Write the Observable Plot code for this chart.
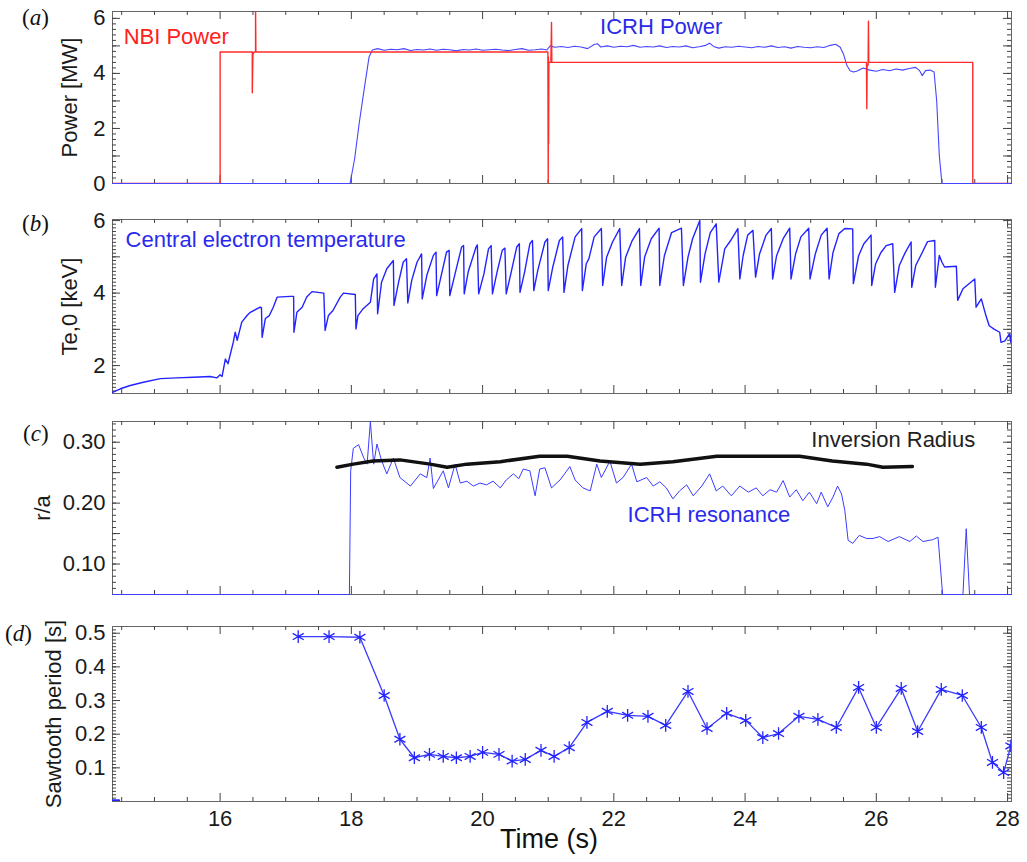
<!DOCTYPE html>
<html><head><meta charset="utf-8">
<script src="https://cdn.jsdelivr.net/npm/d3@7"></script>
<script src="https://cdn.jsdelivr.net/npm/@observablehq/plot@0.6"></script>
<style>
body{margin:0;background:#fff;}
#wrap{position:relative;width:1027px;height:862px;overflow:hidden;font-family:"Liberation Sans",Arial,sans-serif;}
.panel{position:absolute;left:0;}
.plab{position:absolute;font-family:"Liberation Serif","DejaVu Serif",serif;font-size:23px;color:#111;line-height:1;}
.plab i{font-style:italic;}
#xtitle{position:absolute;left:549px;top:826px;transform:translateX(-50%);font-size:27px;color:#111;line-height:1;white-space:nowrap;}
</style></head><body><div id="wrap"></div>
<script>
// ---------- data ----------
const xDomain = [14.36, 28.06];
const xTickLabels = [16, 18, 20, 22, 24, 26, 28];

// (a) NBI power [t, MW]
const nbiPower = [[14.36,0],[16.0,0],[16.0,4.78],[16.49,4.78],[16.49,3.3],[16.5,4.7],[16.52,4.78],[16.54,4.78],[16.54,6.4],[16.545,4.78],
 [20.995,4.78],[21.0,0],[21.003,4.6],[21.006,1.44],[21.01,4.4],[21.04,4.4],[21.05,5.85],[21.055,4.4],
 [25.85,4.4],[25.855,2.72],[25.86,4.3],[25.875,4.3],[25.88,5.9],[25.885,4.4],[27.47,4.4],[27.47,0],[28.06,0]];
// (a) ICRH power [t, MW]
const icrhPower = [[14.36,0],[17.98,0],[18.05,0.9],[18.12,2.2],[18.2,3.5],[18.27,4.6],[18.32,4.85],[18.4,4.9],[18.5,4.84],[18.6,4.88],
 [18.7,4.86],[18.8,4.9],[18.9,4.83],[19.0,4.87],[19.1,4.85],[19.2,4.89],[19.3,4.84],[19.4,4.88],[19.5,4.86],[19.6,4.82],
 [19.7,4.87],[19.8,4.85],[19.9,4.89],[20.0,4.84],[20.1,4.86],[20.2,4.88],[20.3,4.85],[20.4,4.83],[20.5,4.87],[20.6,4.9],
 [20.7,4.84],[20.8,4.86],[20.9,4.89],[20.98,4.85],[21.03,5.0],[21.1,4.95],[21.2,4.98],[21.3,4.94],[21.4,4.99],[21.5,4.96],
 [21.6,4.9],[21.7,5.05],[21.75,5.08],[21.8,4.96],[21.9,5.0],[22.0,4.95],[22.1,4.99],[22.2,4.97],[22.3,5.02],[22.4,4.95],
 [22.5,4.98],[22.6,4.96],[22.7,5.0],[22.8,4.94],[22.9,4.98],[23.0,4.96],[23.1,5.0],[23.2,4.93],[23.3,4.97],[23.4,5.02],
 [23.46,5.1],[23.52,4.98],[23.6,4.92],[23.7,4.97],[23.8,4.95],[23.9,4.99],[24.0,4.96],[24.1,4.93],[24.2,4.98],[24.3,4.95],
 [24.4,5.0],[24.5,4.94],[24.6,4.97],[24.7,4.92],[24.8,4.98],[24.9,4.95],[25.0,4.93],[25.1,4.97],[25.2,4.94],[25.3,5.02],
 [25.38,5.06],[25.45,4.95],[25.5,4.7],[25.55,4.3],[25.6,4.1],[25.65,4.05],[25.7,4.08],[25.8,4.2],[25.9,4.12],[26.0,4.08],
 [26.1,4.14],[26.2,4.1],[26.3,4.16],[26.4,4.12],[26.5,4.18],[26.6,4.22],[26.66,4.1],[26.7,3.92],[26.75,4.1],[26.82,4.12],
 [26.88,4.05],[26.92,3.0],[26.96,1.0],[27.0,0],[28.06,0]];

// (b) central electron temperature [t, keV]
const teCentral = [[14.36,1.26],[14.48,1.36],[14.63,1.45],[14.83,1.54],[15.09,1.64],[15.34,1.66],[15.59,1.68],[15.85,1.7],[15.95,1.66],[16.0,1.75],
 [16.03,1.7],[16.08,2.18],[16.12,2.05],[16.2,2.64],[16.23,2.92],[16.26,2.7],[16.33,3.2],[16.41,3.38],[16.46,3.47],[16.61,3.61],
 [16.63,3.6],[16.64,2.78],[16.69,3.3],[16.75,3.38],[16.81,3.61],[16.87,3.89],[17.07,3.91],[17.12,3.91],[17.125,2.92],[17.17,3.47],
 [17.25,3.61],[17.32,3.89],[17.4,4.04],[17.58,4.0],[17.6,2.97],[17.65,3.38],[17.72,3.52],[17.83,3.89],[17.88,4.0],[18.06,3.96],
 [18.07,3.01],[18.1,3.38],[18.18,3.57],[18.29,3.75],[18.34,4.39],[18.39,4.53],[18.4,3.43],[18.46,4.3],[18.54,4.67],[18.64,4.9],
 [18.65,3.66],[18.72,4.3],[18.79,4.85],[18.84,4.95],[18.86,3.73],[18.92,4.35],[19.0,4.85],[19.07,5.08],[19.08,3.84],[19.15,4.49],
 [19.25,5.04],[19.29,5.13],[19.3,3.93],[19.37,4.49],[19.45,5.13],[19.49,5.18],[19.5,3.93],[19.58,4.53],[19.68,5.27],[19.71,5.31],
 [19.72,3.98],[19.78,4.58],[19.9,5.27],[19.92,5.33],[19.94,3.98],[20.02,4.53],[20.09,5.22],[20.13,5.31],[20.15,3.98],[20.22,4.58],
 [20.3,5.18],[20.34,5.24],[20.36,3.98],[20.43,4.53],[20.52,5.27],[20.56,5.36],[20.57,4.02],[20.64,4.58],[20.72,5.36],[20.76,5.45],
 [20.78,4.07],[20.84,4.62],[20.95,5.41],[20.99,5.5],[21.0,4.07],[21.07,4.72],[21.17,5.45],[21.22,5.55],[21.24,4.02],[21.3,4.76],
 [21.41,5.55],[21.51,5.78],[21.52,4.07],[21.58,4.81],[21.62,4.95],[21.7,5.55],[21.81,5.78],[21.83,4.21],[21.89,4.99],[21.98,5.41],
 [22.09,5.78],[22.12,4.21],[22.18,4.99],[22.28,5.45],[22.39,5.78],[22.41,4.21],[22.47,5.0],[22.57,5.5],[22.69,5.79],[22.7,4.21],
 [22.77,5.03],[22.88,5.67],[23.03,5.79],[23.06,4.21],[23.13,4.99],[23.2,5.5],[23.31,6.0],[23.32,4.3],[23.39,5.08],[23.47,5.67],
 [23.56,5.91],[23.6,4.3],[23.69,5.22],[23.78,5.45],[23.89,5.78],[23.92,4.39],[23.97,5.03],[24.04,5.6],[24.12,5.73],[24.16,4.44],
 [24.22,5.08],[24.32,5.6],[24.4,5.78],[24.42,4.39],[24.48,5.03],[24.58,5.5],[24.68,5.79],[24.7,4.39],[24.77,5.08],[24.85,5.55],
 [24.97,5.79],[24.99,4.39],[25.07,5.08],[25.16,5.6],[25.25,5.79],[25.28,4.39],[25.34,5.12],[25.43,5.64],[25.52,5.78],[25.64,5.77],
 [25.65,4.26],[25.73,5.03],[25.81,5.36],[25.92,5.6],[25.93,4.21],[25.99,4.81],[26.07,5.12],[26.15,5.31],[26.25,5.36],[26.28,4.02],
 [26.35,4.76],[26.43,5.08],[26.53,5.41],[26.54,4.16],[26.6,4.76],[26.7,5.12],[26.78,5.42],[26.89,5.45],[26.9,4.16],[26.96,5.04],
 [27.0,4.85],[27.04,4.72],[27.22,4.74],[27.24,3.8],[27.32,4.12],[27.5,4.39],[27.52,3.61],[27.6,3.84],[27.67,3.38],[27.72,3.1],
 [27.8,3.0],[27.88,2.92],[27.9,2.64],[27.96,2.68],[28.03,2.88],[28.05,2.64],[28.06,2.88]];

// (c) inversion radius and ICRH resonance [t, r/a]
const inversionRadius = [[17.78,0.259],[18.03,0.264],[18.33,0.269],[18.74,0.271],[19.2,0.264],[19.46,0.259],[19.76,0.264],[20.27,0.268],
 [20.87,0.277],[21.29,0.277],[21.79,0.269],[22.4,0.264],[22.9,0.268],[23.57,0.277],[24.83,0.277],[25.33,0.269],[25.85,0.264],[26.1,0.259],[26.55,0.26]];
const icrhResonance = [[14.36,0.05],[17.97,0.05],[17.99,0.253],[18.03,0.29],[18.11,0.296],[18.19,0.274],[18.24,0.264],[18.29,0.334],[18.34,0.264],[18.39,0.297],
 [18.46,0.27],[18.54,0.248],[18.64,0.274],[18.74,0.242],[18.9,0.228],[19.05,0.248],[19.15,0.242],[19.2,0.274],[19.25,0.224],[19.4,0.253],
 [19.48,0.225],[19.58,0.264],[19.66,0.233],[19.76,0.236],[19.86,0.228],[19.96,0.233],[20.06,0.23],[20.16,0.236],[20.27,0.225],[20.36,0.238],
 [20.47,0.248],[20.55,0.24],[20.62,0.256],[20.72,0.253],[20.8,0.212],[20.87,0.256],[20.95,0.258],[21.05,0.225],[21.18,0.238],[21.33,0.26],
 [21.41,0.238],[21.53,0.225],[21.64,0.22],[21.74,0.264],[21.81,0.242],[21.94,0.269],[22.04,0.233],[22.14,0.242],[22.27,0.264],[22.35,0.235],
 [22.5,0.242],[22.6,0.228],[22.7,0.235],[22.8,0.225],[22.9,0.207],[23.0,0.22],[23.11,0.23],[23.21,0.212],[23.34,0.228],[23.46,0.248],
 [23.56,0.22],[23.66,0.228],[23.79,0.212],[23.92,0.228],[24.05,0.218],[24.17,0.225],[24.27,0.212],[24.38,0.222],[24.48,0.218],[24.58,0.237],
 [24.68,0.21],[24.78,0.222],[24.88,0.204],[24.98,0.218],[25.09,0.199],[25.16,0.218],[25.26,0.194],[25.34,0.21],[25.41,0.228],[25.47,0.215],
 [25.52,0.188],[25.57,0.139],[25.64,0.134],[25.74,0.147],[25.85,0.142],[25.95,0.142],[26.05,0.145],[26.18,0.137],[26.35,0.145],[26.51,0.137],
 [26.61,0.146],[26.71,0.137],[26.86,0.14],[26.94,0.144],[26.96,0.118],[27.01,0.05],[27.32,0.05],[27.37,0.158],[27.42,0.05],[28.06,0.05]];

// (d) sawtooth period [t, s]
const sawtoothPeriod = [[17.19,0.49],[17.66,0.49],[18.13,0.488],[18.5,0.315],[18.74,0.185],[18.96,0.13],[19.19,0.14],[19.4,0.134],[19.6,0.13],[19.81,0.134],
 [20.0,0.146],[20.25,0.14],[20.45,0.12],[20.65,0.125],[20.89,0.152],[21.09,0.134],[21.32,0.16],[21.59,0.235],[21.9,0.268],[22.21,0.256],
 [22.52,0.253],[22.79,0.226],[23.13,0.327],[23.42,0.217],[23.72,0.262],[24.01,0.241],[24.27,0.19],[24.51,0.202],[24.82,0.253],[25.11,0.244],
 [25.39,0.22],[25.73,0.339],[26.0,0.22],[26.38,0.336],[26.63,0.208],[26.99,0.333],[27.31,0.315],[27.6,0.22],[27.77,0.116],[27.94,0.086],[28.05,0.165]];
const sawtoothLone = [[14.36,0.004],[14.46,0.004]];

// ---------- layout helpers ----------
const W = 1027, ML = 112, MR = 16, FW = W - ML - MR;
const BLUE = "#2323ff";
const xMajor = [16, 18, 20, 22, 24, 26, 28];
const xMinor = d3.range(14.5, 28.01, 0.5).filter(v => !xMajor.includes(v));
const FONT = {fontFamily: "'Liberation Sans', Arial, sans-serif", fontSize: "22px", color: "#1a1a1a", background: "transparent", overflow: "visible"};

function tickMarks(yMajor, yMinor, FH) {
  const s = "#444";
  return [
    Plot.ruleY(yMinor, {insetRight: FW - 4, stroke: s}),
    Plot.ruleY(yMinor, {insetLeft: FW - 4, stroke: s}),
    Plot.ruleY(yMajor, {insetRight: FW - 8, stroke: s}),
    Plot.ruleY(yMajor, {insetLeft: FW - 8, stroke: s}),
    Plot.ruleX(xMinor, {insetBottom: FH - 4, stroke: s}),
    Plot.ruleX(xMinor, {insetTop: FH - 4, stroke: s}),
    Plot.ruleX(xMajor, {insetBottom: FH - 8, stroke: s}),
    Plot.ruleX(xMajor, {insetTop: FH - 8, stroke: s})
  ];
}

function panel({top, mt, fh, mb, yDomain, yLabels, yFmt, yMajor, yMinor, label, labelOffset, marks, bottomAxis}) {
  const height = mt + fh + mb;
  const p = Plot.plot({
    width: W, height, marginLeft: ML, marginRight: MR, marginTop: mt, marginBottom: mb,
    style: FONT,
    x: {domain: xDomain, axis: null},
    y: {domain: yDomain, axis: null},
    marks: [
      Plot.frame({stroke: "#666"}),
      ...tickMarks(yMajor, yMinor, fh),
      ...marks,
      Plot.axisY(yLabels, {tickSize: 0, tickPadding: 7, tickFormat: yFmt, label, labelAnchor: "center", labelArrow: "none", labelOffset}),
      ...(bottomAxis ? [Plot.axisX(xTickLabels, {tickSize: 0, tickPadding: 9, tickFormat: d3.format("d"), label: null})] : [])
    ]
  });
  p.classList.add("panel");
  p.style.top = top + "px";
  return p;
}

const wrap = document.getElementById("wrap");

// (a)
wrap.appendChild(panel({
  top: 0, mt: 11, fh: 172, mb: 10, yDomain: [0, 6.25],
  yLabels: [0, 2, 4, 6], yFmt: d3.format("d"),
  yMajor: d3.range(0, 6.01, 1), yMinor: d3.range(0.2, 6.2, 0.2),
  label: "Power [MW]", labelOffset: 51,
  marks: [
    Plot.line(icrhPower, {x: d => d[0], y: d => d[1], stroke: "#4646ff", strokeWidth: 1.1}),
    Plot.line(nbiPower, {x: d => d[0], y: d => d[1], stroke: "#ff2b2b", strokeWidth: 1.4, clip: true}),
    Plot.text(["NBI Power"], {x: 14.53, y: 5.31, text: d => d, textAnchor: "start", fill: "#ff2020", fontSize: 22}),
    Plot.text(["ICRH Power"], {x: 21.79, y: 5.68, text: d => d, textAnchor: "start", fill: "#2a2ae8", fontSize: 22})
  ]
}));

// (b)
wrap.appendChild(panel({
  top: 208, mt: 11, fh: 174, mb: 10, yDomain: [1.23, 6.03],
  yLabels: [2, 4, 6], yFmt: d3.format("d"),
  yMajor: d3.range(2, 6.01, 1), yMinor: d3.range(1.3, 6.0, 0.1),
  label: "Te,0 [keV]", labelOffset: 51,
  marks: [
    Plot.line(teCentral, {x: d => d[0], y: d => d[1], stroke: BLUE, strokeWidth: 1.4, clip: true}),
    Plot.text(["Central electron temperature"], {x: 14.56, y: 5.47, text: d => d, textAnchor: "start", fill: "#2a2aee", fontSize: 22})
  ]
}));

// (c)
wrap.appendChild(panel({
  top: 410, mt: 11, fh: 173, mb: 10, yDomain: [0.05, 0.334],
  yLabels: [0.1, 0.2, 0.3], yFmt: d3.format(".2f"),
  yMajor: d3.range(0.1, 0.331, 0.05), yMinor: d3.range(0.06, 0.331, 0.01),
  label: "r/a", labelOffset: 78,
  marks: [
    Plot.line(icrhResonance, {x: d => d[0], y: d => d[1], stroke: "#3c3cff", strokeWidth: 1}),
    Plot.line(inversionRadius, {x: d => d[0], y: d => d[1], stroke: "#111", strokeWidth: 3.5, clip: true}),
    Plot.text(["Inversion Radius"], {x: 25.01, y: 0.3036, text: d => d, textAnchor: "start", fill: "#222", fontSize: 22}),
    Plot.text(["ICRH resonance"], {x: 22.21, y: 0.181, text: d => d, textAnchor: "start", fill: "#2a2aee", fontSize: 22})
  ]
}));

// (d)
wrap.appendChild(panel({
  top: 615, mt: 11, fh: 175, mb: 61, yDomain: [0, 0.52],
  yLabels: [0.1, 0.2, 0.3, 0.4, 0.5], yFmt: d3.format(".1f"),
  yMajor: d3.range(0.1, 0.51, 0.1), yMinor: d3.range(0.01, 0.515, 0.01),
  label: "Sawtooth period [s]", labelOffset: 67,
  bottomAxis: true,
  marks: [
    Plot.line(sawtoothLone, {x: d => d[0], y: d => d[1], stroke: BLUE, strokeWidth: 2, clip: true}),
    Plot.line(sawtoothPeriod, {x: d => d[0], y: d => d[1], stroke: "#3a3aff", strokeWidth: 1.3, clip: true}),
    Plot.dot(sawtoothPeriod, {x: d => d[0], y: d => d[1], symbol: "asterisk", r: 6, stroke: BLUE, strokeWidth: 1.3, clip: true})
  ]
}));

// panel letters and x title
const letters = [["a", 22, 6], ["b", 22, 212], ["c", 23, 422], ["d", 5, 622]];
for (const [l, x, y] of letters) {
  const s = document.createElement("div");
  s.className = "plab";
  s.style.left = x + "px"; s.style.top = y + "px";
  s.innerHTML = `(<i>${l}</i>)`;
  wrap.appendChild(s);
}
const xt = document.createElement("div");
xt.id = "xtitle"; xt.textContent = "Time (s)";
wrap.appendChild(xt);
</script></body></html>
